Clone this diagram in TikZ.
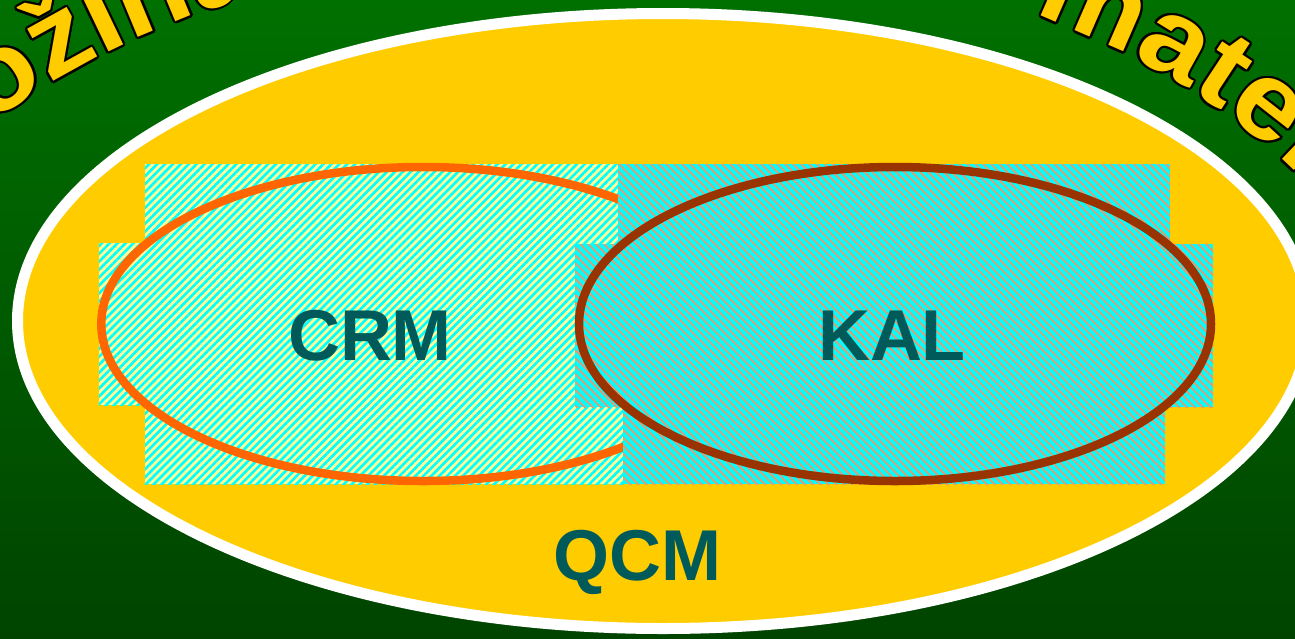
\documentclass[tikz,border=0pt]{standalone}
\usepackage{fontspec}
\setmainfont{Liberation Sans}
\newfontfamily\archfamily{Liberation Sans}[FakeStretch=1.08]
\usetikzlibrary{patterns.meta,decorations.text}

\definecolor{gtop}{HTML}{007000}
\definecolor{gbot}{HTML}{004400}
\definecolor{setyellow}{HTML}{FFCC00}
\definecolor{paleyellow}{HTML}{FFFF99}
\definecolor{aqua}{HTML}{00FFFF}
\definecolor{salmon}{HTML}{E49A72}
\definecolor{crmorange}{HTML}{FF6600}
\definecolor{kalbrown}{HTML}{993300}
\definecolor{labelteal}{HTML}{005A5A}

\newcommand\arcfont{\archfamily\bfseries\fontsize{55pt}{55pt}\selectfont}

% a word spread along a stretch of the outer arch,
% yellow with a thin black outline
\newcommand\archword[3]{%
  \foreach \ang in {0,22.5,...,337.5}{%
    \path[shift={(\ang:1.1pt)}, decorate,
      decoration={text along path, text align=fit to path,
        text={|\arcfont\color{black}|#3}}]
      plot[domain=#1:#2, samples=90] ({615+800*cos(\x)},{426+483*sin(\x)});
  }%
  \path[decorate,
    decoration={text along path, text align=fit to path,
      text={|\arcfont\color{setyellow}|#3}}]
    plot[domain=#1:#2, samples=90] ({615+800*cos(\x)},{426+483*sin(\x)});
}

\begin{document}
\begin{tikzpicture}[x=0.5pt,y=-0.5pt,
  setlabel/.style={font=\fontsize{36pt}{36pt}\selectfont\bfseries,
    text=labelteal, inner sep=0pt, anchor=base},
  paleset/.style={fill=paleyellow,
    postaction={pattern={Lines[angle=45,distance=2.8pt,line width=1.3pt]},
      pattern color=aqua}},
  aquaset/.style={fill=aqua,
    postaction={pattern={Lines[angle=-45,distance=2.8pt,line width=0.9pt]},
      pattern color=salmon}},
  ring/.style={line width=4.25pt}]

\useasboundingbox (0,0) rectangle (1295,638);
\clip (0,0) rectangle (1295,638);

% background
\shade[top color=gtop, bottom color=gbot] (0,0) rectangle (1295,638);

% arched title
\archword{201.6}{243.5}{Množina}
\archword{301.5}{353}{materiálů}

% outer set QCM
\draw[white, line width=5.5pt, fill=setyellow]
  (663,321) ellipse [x radius=645.5, y radius=307.5];

% CRM region
\path[paleset] (145,164) rectangle (625,484);
\path[paleset] (99,243) rectangle (625,405);
\draw[ring, crmorange] (423,324) ellipse [x radius=321.7, y radius=157];

% KAL region
\path[aquaset] (618,164) rectangle (1170,324);
\path[aquaset] (623,324) rectangle (1165,484);
\path[aquaset] (575,244) rectangle (1213,407);
\draw[ring, kalbrown] (895,324) ellipse [x radius=316, y radius=157];

% labels
\node[setlabel] (crm) at (370,360) {CRM};
\node[setlabel] (kal) at (892,360) {KAL};
\node[setlabel] (qcm) at (637,580) {QCM};
\end{tikzpicture}
\end{document}
